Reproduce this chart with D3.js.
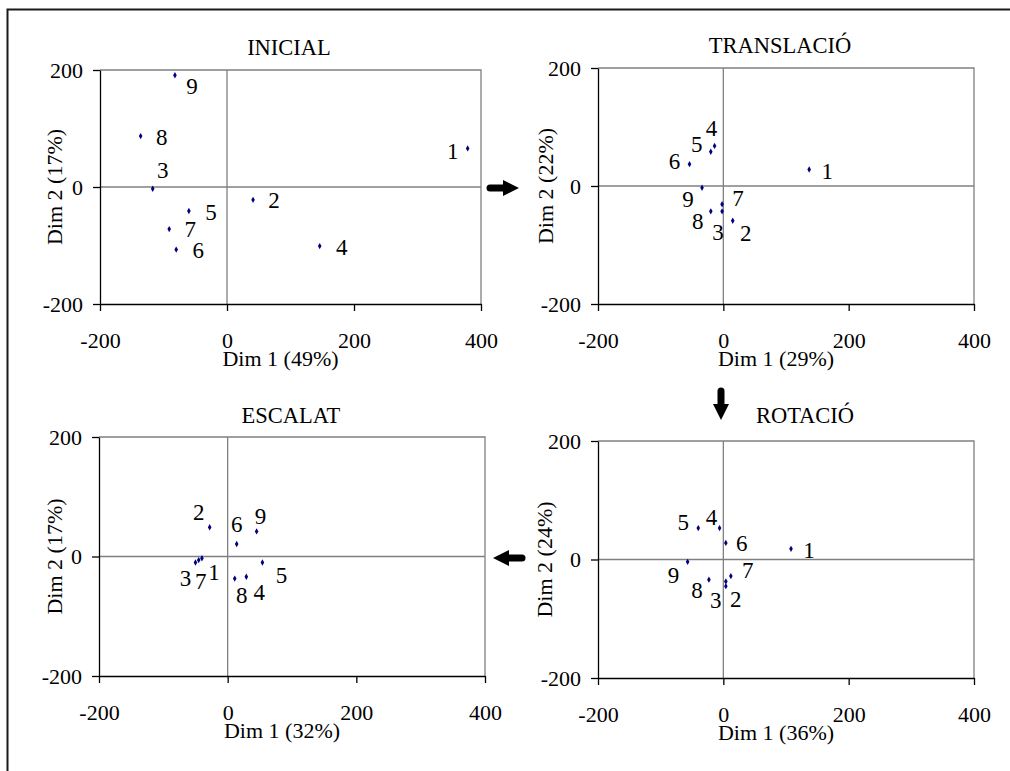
<!DOCTYPE html>
<html>
<head>
<meta charset="utf-8">
<script src="https://cdnjs.cloudflare.com/ajax/libs/d3/7.8.5/d3.min.js"></script>
<style>
  body { margin: 0; background: #fff; }
  svg { display: block; }
  svg text { font-family: 'Liberation Serif', 'Times New Roman', Times, serif; }
</style>
</head>
<body>
<div id="chart"></div>
<script>
// point ids 1..9
var pointIds = ['1', '2', '3', '4', '5', '6', '7', '8', '9'];

// INICIAL
var inicialX = [379, 41, -117, 146, -60, -80, -91, -136, -82];
var inicialY = [66, -22, -3, -101, -41, -107, -72, 87, 191];
// TRANSLACIO
var translacioX = [137, 15, -2, -14, -20, -54, -2, -20, -34];
var translacioY = [28, -59, -43, 68, 58, 37, -31, -43, -3];
// ESCALAT
var escalatX = [-40, -28, -50, 29, 54, 14, -45, 11, 45];
var escalatY = [-3, 49, -10, -34, -10, 21, -6, -37, 42];
// ROTACIO
var rotacioX = [108, 4, 4, -6, -40, 4, 12, -23, -57];
var rotacioY = [18, -37, -45, 53, 53, 28, -28, -34, -4];

var panelTitles = ['INICIAL', 'TRANSLACIÓ', 'ESCALAT', 'ROTACIÓ'];
var xTitles = ['Dim 1 (49%)', 'Dim 1 (29%)', 'Dim 1 (32%)', 'Dim 1 (36%)'];
var yTitles = ['Dim 2 (17%)', 'Dim 2 (22%)', 'Dim 2 (17%)', 'Dim 2 (24%)'];
var xTicks = [-200, 0, 200, 400];
var yTicks = [-200, 0, 200];

// label placement (offset from point, px) - layout only
var labelOff = [
  [[-15, 3], [21, 0], [10, -19], [22, 1], [22, 1], [22, 1], [21, 0], [21, 1], [17, 11]],
  [[18, 2], [13, 12], [-4, 21], [-3, -18], [-14, -8], [-15, -3], [16, -6], [-13, 10], [-14, 11]],
  [[12, 14], [-11, -15], [-10, 16], [13, 15], [19, 13], [0, -20], [2, 21], [7, 17], [4, -15]],
  [[18, 1], [10, 18], [-10, 14], [-8, -11], [-15, -6], [16, 0], [17, -6], [-12, 11], [-14, 13]]
];

// panel boxes
var panels = [
  {xs: inicialX, ys: inicialY, left: 100, right: 481, top: 70, bottom: 304, tx: 289, ty: 55, yt: 38},
  {xs: translacioX, ys: translacioY, left: 598, right: 974, top: 68, bottom: 304, tx: 780, ty: 53, yt: 45},
  {xs: escalatX, ys: escalatY, left: 99, right: 485, top: 437, bottom: 676, tx: 291, ty: 423, yt: 37},
  {xs: rotacioX, ys: rotacioY, left: 598, right: 974, top: 441, bottom: 678, tx: 805, ty: 423, yt: 46}
];

var font = "'Liberation Serif', 'Times New Roman', Times, serif";

var svg = d3.select('#chart')
  .append('svg')
  .attr('width', 1010)
  .attr('height', 771);

// outer frame (top and left edges only visible)
svg.append('path')
  .attr('d', 'M7.5,771 V9.5 H1010')
  .attr('fill', 'none')
  .attr('stroke', '#1a1a1a')
  .attr('stroke-width', 2);

var defs = svg.append('defs');

panels.forEach(function(p, i){
  var x = d3.scaleLinear().domain([-200, 400]).range([p.left, p.right]);
  var y = d3.scaleLinear().domain([-200, 200]).range([p.bottom, p.top]);
  var g = svg.append('g');

  // top / right border (gray)
  g.append('path')
    .attr('d', 'M' + p.left + ',' + p.top + ' H' + p.right + ' V' + p.bottom)
    .attr('fill', 'none')
    .attr('stroke', '#808080')
    .attr('stroke-width', 1.3);

  // zero lines
  g.append('line')
    .attr('x1', x(0)).attr('x2', x(0))
    .attr('y1', p.top).attr('y2', p.bottom)
    .attr('stroke', '#808080').attr('stroke-width', 1.3);
  g.append('line')
    .attr('x1', p.left).attr('x2', p.right)
    .attr('y1', y(0)).attr('y2', y(0))
    .attr('stroke', '#808080').attr('stroke-width', 1.3);

  // axes
  var xa = g.append('g')
    .attr('transform', 'translate(0,' + p.bottom + ')')
    .call(d3.axisBottom(x).tickValues(xTicks).tickSize(7).tickSizeOuter(0).tickPadding(21).tickFormat(d3.format('d')));
  var ya = g.append('g')
    .attr('transform', 'translate(' + p.left + ',0)')
    .call(d3.axisLeft(y).tickValues(yTicks).tickSize(7).tickSizeOuter(0).tickPadding(10).tickFormat(d3.format('d')));
  [xa, ya].forEach(function(a){
    a.attr('font-family', font).attr('font-size', 22);
    a.selectAll('path, line').attr('stroke', '#000').attr('stroke-width', 1.3);
    a.selectAll('text').attr('fill', '#000');
  });
  xa.selectAll('text').text(function(d){ return d < 0 ? '-' + Math.abs(d) : d; });
  ya.selectAll('text').text(function(d){ return d < 0 ? '-' + Math.abs(d) : d; });

  // titles
  g.append('text')
    .attr('x', p.tx).attr('y', p.ty)
    .attr('text-anchor', 'middle')
    .attr('font-size', 22.5)
    .text(panelTitles[i]);

  g.append('text')
    .attr('x', (p.left + p.right) / 2 - 10).attr('y', p.bottom + 62)
    .attr('text-anchor', 'middle')
    .attr('font-size', 22)
    .text(xTitles[i]);

  // y title, clipped at top like the original
  defs.append('clipPath').attr('id', 'yc' + i)
    .append('rect')
    .attr('x', 0).attr('y', p.top + 57)
    .attr('width', p.left - 10).attr('height', 400);
  var cy = (p.top + p.bottom) / 2;
  var cx = p.left - p.yt;
  g.append('g').attr('clip-path', 'url(#yc' + i + ')')
    .append('text')
    .attr('transform', 'translate(' + cx + ',' + cy + ') rotate(-90)')
    .attr('text-anchor', 'middle')
    .attr('font-size', 22)
    .text(yTitles[i]);

  // points
  var pts = pointIds.map(function(id, k){ return {id: id, x: p.xs[k], y: p.ys[k], off: labelOff[i][k]}; });
  g.selectAll('.pt').data(pts).enter()
    .append('path')
    .attr('class', 'pt')
    .attr('d', 'M0,-3.2 L1.8,0 L0,3.2 L-1.8,0Z')
    .attr('transform', function(d){ return 'translate(' + x(d.x) + ',' + y(d.y) + ')'; })
    .attr('fill', '#000080');

  g.selectAll('.lab').data(pts).enter()
    .append('text')
    .attr('class', 'lab')
    .attr('x', function(d){ return x(d.x) + d.off[0]; })
    .attr('y', function(d){ return y(d.y) + d.off[1]; })
    .attr('dy', '0.34em')
    .attr('text-anchor', 'middle')
    .attr('font-size', 23)
    .text(function(d){ return d.id; });
});

// arrows between panels
function arrow(x1, y1, x2, y2){
  var len = Math.hypot(x2 - x1, y2 - y1);
  var ang = Math.atan2(y2 - y1, x2 - x1) * 180 / Math.PI;
  var a = svg.append('g')
    .attr('transform', 'translate(' + x1 + ',' + y1 + ') rotate(' + ang + ')');
  a.append('line')
    .attr('x1', 3).attr('x2', len - 14).attr('y1', 0).attr('y2', 0)
    .attr('stroke', '#000').attr('stroke-width', 7).attr('stroke-linecap', 'round');
  a.append('path')
    .attr('d', 'M' + (len - 16) + ',-8 L' + len + ',0 L' + (len - 16) + ',8Z')
    .attr('fill', '#000');
}
arrow(487, 188, 519, 188);
arrow(721, 388, 721, 420);
arrow(525, 558, 493, 558);
</script>
</body>
</html>
